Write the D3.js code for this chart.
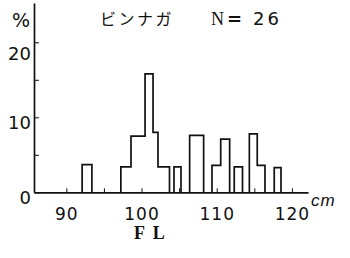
<!DOCTYPE html>
<html>
<head>
<meta charset="utf-8">
<script src="https://cdn.jsdelivr.net/npm/d3@7"></script>
<style>
  body { margin: 0; background: #fff; }
  svg { display: block; }
  .axis path, .axis line { stroke: #111; }
  .axis text { fill: #111; font-family: "DejaVu Sans", sans-serif; }
</style>
</head>
<body>
<div id="chart"></div>
<script>
// histogram steps (fork length in cm, % of N = 26)
const binLo = [92.1, 97.25, 98.6, 100.47, 101.53, 102.19, 104.32, 106.4, 109.37, 110.53, 112.33, 114.34, 115.39, 117.65];
const binHi = [93.4, 98.6, 100.47, 101.53, 102.19, 103.72, 105.25, 108.26, 110.53, 111.72, 113.43, 115.39, 116.42, 118.55];
const pct = [3.7, 3.4, 7.5, 15.8, 8.0, 3.4, 3.4, 7.6, 3.6, 7.1, 3.4, 7.8, 3.6, 3.3];

const xTicks = [90, 95, 100, 105, 110, 115, 120];
const xLabels = [90, 100, 110, 120];
const yTicks = [0, 5, 10, 15, 20];
const yLabels = [0, 10, 20];

const title = 'ビンナガ';
const nText = '26';

function drawChart() {
  const svg = d3.select('#chart')
    .append('svg')
    .attr('width', 350)
    .attr('height', 258);

  const x = d3.scaleLinear().domain([85.7, 122.14]).range([34, 308]);
  const y = d3.scaleLinear().domain([0, 25.24]).range([192.3, 3]);

  // group contiguous bins into one outline each
  const groups = [];
  binLo.forEach((lo, i) => {
    const bin = { lo: lo, hi: binHi[i], p: pct[i] };
    if (i > 0 && Math.abs(lo - binHi[i - 1]) < 0.01) groups[groups.length - 1].push(bin);
    else groups.push([bin]);
  });

  const line = d3.line().x(d => x(d[0])).y(d => y(d[1]));

  svg.selectAll('.bar')
    .data(groups)
    .enter().append('path')
    .attr('class', 'bar')
    .attr('fill', 'none')
    .attr('stroke', '#111')
    .attr('stroke-width', 1.7)
    .attr('d', g => {
      const pts = [[g[0].lo, 0]];
      g.forEach(b => { pts.push([b.lo, b.p]); pts.push([b.hi, b.p]); });
      pts.push([g[g.length - 1].hi, 0]);
      return line(pts);
    });

  // x axis
  const xAxis = svg.append('g')
    .attr('class', 'axis axis-x')
    .attr('transform', `translate(0,${y(0)})`)
    .call(d3.axisBottom(x)
      .tickValues(xTicks)
      .tickSizeInner(-4)
      .tickSizeOuter(0)
      .tickPadding(16)
      .tickFormat(d => xLabels.includes(d) ? d : ''));
  xAxis.select('.domain').attr('stroke-width', 1.7);
  xAxis.selectAll('text')
    .attr('font-size', 17)
    .attr('letter-spacing', 1);

  // y axis
  const yAxis = svg.append('g')
    .attr('class', 'axis axis-y')
    .attr('transform', `translate(${x(85.7)},0)`)
    .call(d3.axisLeft(y)
      .tickValues(yTicks)
      .tickSizeInner(-5)
      .tickSizeOuter(0)
      .tickPadding(3)
      .tickFormat(d => yLabels.includes(d) ? d : ''));
  yAxis.select('.domain').attr('stroke-width', 1.7);
  yAxis.selectAll('text')
    .attr('font-size', 18)
    .attr('dy', d => d === 20 ? '0.95em' : '0.62em');

  svg.append('text')
    .attr('x', 12)
    .attr('y', 27)
    .attr('font-family', 'DejaVu Sans, sans-serif')
    .attr('font-size', 19)
    .attr('fill', '#111')
    .text('%');

  // title
  svg.append('text')
    .attr('x', 100)
    .attr('y', 25)
    .attr('font-family', '"Noto Sans CJK JP", sans-serif')
    .attr('font-size', 16)
    .attr('letter-spacing', 2.5)
    .attr('fill', '#111')
    .text(title);
  svg.append('text')
    .attr('x', 211)
    .attr('y', 25)
    .attr('font-family', '"Liberation Serif", serif')
    .attr('font-size', 18)
    .attr('fill', '#111')
    .text('N');
  svg.append('text')
    .attr('x', 227)
    .attr('y', 25)
    .attr('font-family', '"DejaVu Sans", sans-serif')
    .attr('font-weight', 'bold')
    .attr('font-size', 18)
    .attr('fill', '#111')
    .text('=');
  svg.append('text')
    .attr('x', 253)
    .attr('y', 25)
    .attr('font-family', '"DejaVu Sans", sans-serif')
    .attr('font-size', 18)
    .attr('letter-spacing', 3)
    .attr('fill', '#111')
    .text(nText);

  // unit and axis name
  svg.append('text')
    .attr('x', 311)
    .attr('y', 206)
    .attr('font-family', '"Liberation Sans", sans-serif')
    .attr('font-style', 'italic')
    .attr('font-size', 17)
    .attr('letter-spacing', 1)
    .attr('fill', '#111')
    .text('cm');
  svg.append('text')
    .attr('x', 134)
    .attr('y', 239)
    .attr('font-family', '"Liberation Serif", serif')
    .attr('font-weight', 'bold')
    .attr('font-size', 18)
    .attr('letter-spacing', 2)
    .attr('fill', '#111')
    .text('F L');
}

drawChart();
</script>
</body>
</html>
